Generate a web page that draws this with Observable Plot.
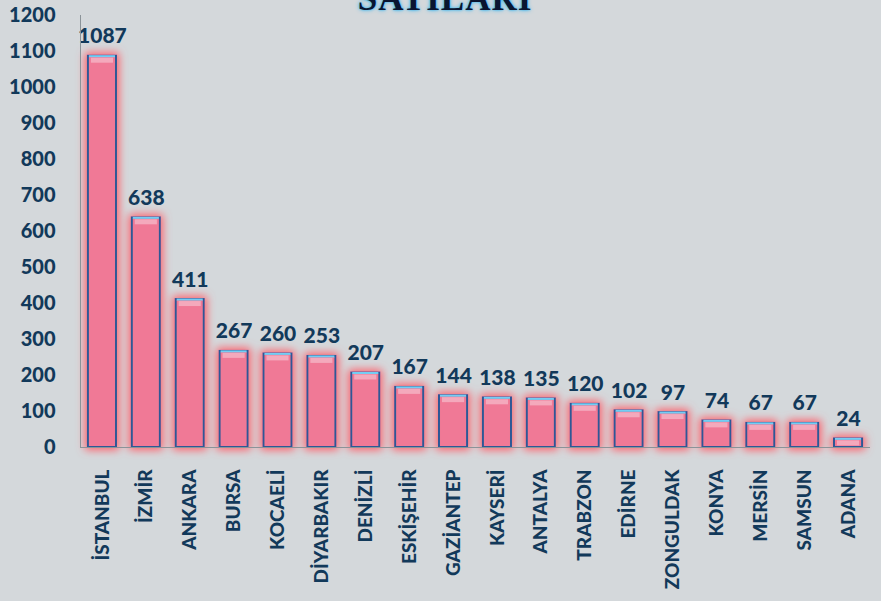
<!DOCTYPE html>
<html>
<head>
<meta charset="utf-8">
<script src="https://cdn.jsdelivr.net/npm/d3@7"></script>
<script src="https://cdn.jsdelivr.net/npm/@observablehq/plot@0.6"></script>
<style>
  html, body { margin: 0; padding: 0; background: #d4d8db; width: 881px; height: 601px; overflow: hidden; }
  #wrap { position: relative; width: 881px; height: 601px; }
  #title { position: absolute; left: 0; width: 890px; top: -19px; text-align: center;
    font-family: "Liberation Serif", "DejaVu Serif", serif; font-weight: bold; font-size: 35px; line-height: 35px;
    color: #0a1530; text-shadow: 0 0 4px #39b6f0, 0 0 2px #39b6f0; letter-spacing: 1px; }
  #chart { position: absolute; left: 0; top: 0; }
</style>
</head>
<body>
<div id="wrap">
  <div id="chart"></div>
  <div id="title">SATILARI</div>
</div>
<script>
const cities = ["İSTANBUL", "İZMİR", "ANKARA", "BURSA", "KOCAELİ", "DİYARBAKIR", "DENİZLİ", "ESKİŞEHİR", "GAZİANTEP", "KAYSERİ", "ANTALYA", "TRABZON", "EDİRNE", "ZONGULDAK", "KONYA", "MERSİN", "SAMSUN", "ADANA"];
const sales = [1087, 638, 411, 267, 260, 253, 207, 167, 144, 138, 135, 120, 102, 97, 74, 67, 67, 24];
const yTicks = [0, 100, 200, 300, 400, 500, 600, 700, 800, 900, 1000, 1100, 1200];

const data = cities.map((c, i) => ({city: c, value: sales[i]}));
const ink = "#12395a";
const font = "Lato, 'Open Sans', sans-serif";

const chart = Plot.plot({
  width: 881,
  height: 601,
  marginTop: 15,
  marginBottom: 154,
  marginLeft: 80,
  marginRight: 11,
  style: {background: "transparent", fontFamily: font, color: ink},
  x: {domain: cities, paddingInner: 0.36, paddingOuter: 0.18, round: false, label: null},
  y: {domain: [0, 1200], label: null},
  marks: [
    Plot.axisY({ticks: yTicks, tickFormat: d => String(d), tickSize: 0, tickPadding: 25, fontSize: 20, fontWeight: 900, fill: ink, label: null}),
    Plot.axisX({tickSize: 0, tickPadding: 22, tickRotate: -90, fontSize: 19, fontWeight: 900, fill: ink, label: null}),
    Plot.barY(data, {x: "city", y: "value", fill: "#f07996", stroke: "#2d5896", strokeWidth: 2}),
    Plot.tickY(data, {x: "city", y: "value", dy: 4, stroke: "#f7c9d6", strokeWidth: 5, strokeOpacity: 0.6, inset: 3}),
    Plot.tickY(data, {x: "city", y: "value", stroke: "#74cdf3", strokeWidth: 2, inset: 1}),
    Plot.text(data, {x: "city", y: "value", text: d => String(d.value), dy: -13, lineAnchor: "bottom", fontSize: 21, fontWeight: 900, fill: ink}),
    Plot.ruleY([0], {stroke: "#8b9398", strokeWidth: 1}),
    Plot.frame({anchor: "left", stroke: "#8b9398", strokeWidth: 1})
  ]
});

// glow behind the bars
const svg = d3.select(chart);
const defs = svg.insert("defs", ":first-child");
const f = defs.append("filter").attr("id", "glow").attr("x", "-20%").attr("y", "-10%").attr("width", "140%").attr("height", "120%");
f.append("feMorphology").attr("in", "SourceAlpha").attr("operator", "dilate").attr("radius", 2).attr("result", "dil");
f.append("feGaussianBlur").attr("in", "dil").attr("stdDeviation", 4).attr("result", "blur");
f.append("feFlood").attr("flood-color", "#ff5f6a").attr("flood-opacity", 1);
f.append("feComposite").attr("in2", "blur").attr("operator", "in").attr("result", "shadow");
const m = f.append("feMerge");
m.append("feMergeNode").attr("in", "shadow");
m.append("feMergeNode").attr("in", "SourceGraphic");
svg.selectAll('g[aria-label="bar"]').attr("filter", "url(#glow)");

document.getElementById("chart").appendChild(chart);
</script>
</body>
</html>
